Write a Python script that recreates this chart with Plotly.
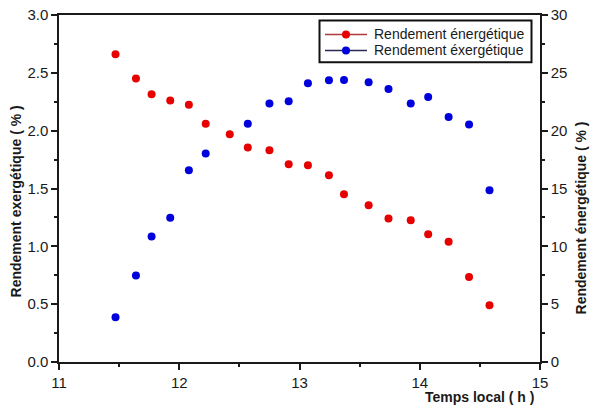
import plotly.graph_objects as go

# Data
time_energ = [11.47, 11.64, 11.77, 11.925, 12.08, 12.22, 12.42, 12.57, 12.75, 12.91,
              13.07, 13.245, 13.37, 13.575, 13.74, 13.925, 14.07, 14.24, 14.41, 14.58]
rend_energ = [26.6, 24.5, 23.15, 22.6, 22.25, 20.6, 19.7, 18.55, 18.3, 17.1,
              17.0, 16.15, 14.5, 13.55, 12.4, 12.25, 11.05, 10.4, 7.35, 4.9]

time_exerg = [11.47, 11.64, 11.77, 11.925, 12.08, 12.22, 12.57, 12.75, 12.91,
              13.07, 13.245, 13.37, 13.575, 13.74, 13.925, 14.07, 14.24, 14.41, 14.58]
rend_exerg = [0.386, 0.748, 1.085, 1.248, 1.657, 1.803, 2.059, 2.234, 2.254,
              2.41, 2.435, 2.438, 2.418, 2.36, 2.234, 2.29, 2.119, 2.053, 1.484]

x_ticks = [11, 12, 13, 14, 15]
y_left_ticks = [0.0, 0.5, 1.0, 1.5, 2.0, 2.5, 3.0]
y_right_ticks = [0, 5, 10, 15, 20, 25, 30]

name_energ = "Rendement énergétique"
name_exerg = "Rendement éxergétique"
title_x = "Temps local ( h )"
title_left = "Rendement exergétique ( % )"
title_right = "Rendement énergétique ( % )"

RED = "#e60000"
BLUE = "#0000dd"
AXC = "#1a1a1a"
FONT = "Liberation Sans, Arial, sans-serif"

W, H = 590, 410
PLOT_L, PLOT_R, PLOT_T, PLOT_B = 59, 540, 14.5, 362.5  # window pixels


def px(x):
    return (x - PLOT_L) / (PLOT_R - PLOT_L)


def py(y):
    return (PLOT_B - y) / (PLOT_B - PLOT_T)


fig = go.Figure()

fig.add_trace(go.Scatter(x=time_energ, y=rend_energ, mode="markers", yaxis="y2",
                         name=name_energ, marker=dict(color=RED, size=8), showlegend=False))
fig.add_trace(go.Scatter(x=time_exerg, y=rend_exerg, mode="markers", yaxis="y",
                         name=name_exerg, marker=dict(color=BLUE, size=8), showlegend=False))

tickfont = dict(family=FONT, size=15, color=AXC)

# manual legend (box, line symbols, markers, texts)
LEG_X0, LEG_X1, LEG_Y0, LEG_Y1 = 319.5, 531.5, 20, 62
rows = [(34, name_energ, "#b03a3a", RED), (50, name_exerg, "#2a2a55", BLUE)]
shapes = [dict(type="rect", xref="paper", yref="paper",
               x0=px(LEG_X0), x1=px(LEG_X1), y0=py(LEG_Y1), y1=py(LEG_Y0),
               line=dict(color="#111111", width=2), fillcolor="white", layer="above")]
annotations = []
for yrow, label, lcol, mcol in rows:
    shapes.append(dict(type="line", xref="paper", yref="paper",
                       x0=px(325), x1=px(367), y0=py(yrow), y1=py(yrow),
                       line=dict(color=lcol, width=1.5), layer="above"))
    shapes.append(dict(type="circle", xref="paper", yref="paper",
                       xsizemode="pixel", ysizemode="pixel",
                       xanchor=px(346), yanchor=py(yrow),
                       x0=-4, x1=4, y0=-4, y1=4,
                       fillcolor=mcol, line=dict(color=mcol, width=0), layer="above"))
    annotations.append(dict(text=label, xref="paper", yref="paper",
                            x=px(372), y=py(yrow), xanchor="left", yanchor="middle",
                            showarrow=False,
                            font=dict(family=FONT, size=14, color=AXC)))

annotations += [
    dict(text=f"<b>{title_x}</b>", xref="paper", yref="paper",
         x=px(536), y=py(398), xanchor="right", yanchor="middle",
         showarrow=False, font=dict(family=FONT, size=14, color=AXC)),
    dict(text=f"<b>{title_left}</b>", xref="paper", yref="paper",
         x=px(15.5), y=py(202), xanchor="center", yanchor="middle",
         textangle=-90, showarrow=False, font=dict(family=FONT, size=14, color=AXC)),
    dict(text=f"<b>{title_right}</b>", xref="paper", yref="paper",
         x=px(580.5), y=py(218), xanchor="center", yanchor="middle",
         textangle=-90, showarrow=False, font=dict(family=FONT, size=14, color=AXC)),
]

fig.update_layout(
    width=W, height=H,
    margin=dict(l=PLOT_L, r=W - PLOT_R, t=PLOT_T, b=H - PLOT_B, autoexpand=False),
    paper_bgcolor="white", plot_bgcolor="white",
    font=dict(family=FONT, color=AXC),
    showlegend=False,
    xaxis=dict(range=[11, 15], tickvals=x_ticks, ticktext=[str(v) for v in x_ticks],
               showline=True, linecolor=AXC, linewidth=1.5, mirror=True,
               ticks="outside", ticklen=6, tickwidth=1.5, tickcolor=AXC,
               minor=dict(dtick=0.5, ticks="outside", ticklen=3, tickcolor=AXC, tickwidth=1.5),
               showgrid=False, zeroline=False, tickfont=tickfont,
               ticklabeloverflow="allow"),
    yaxis=dict(range=[0, 3], tickvals=y_left_ticks,
               ticktext=[f"{v:.1f}" for v in y_left_ticks],
               showline=True, linecolor=AXC, linewidth=1.5,
               ticks="outside", ticklen=6, tickwidth=1.5, tickcolor=AXC,
               minor=dict(dtick=0.25, ticks="outside", ticklen=3, tickcolor=AXC, tickwidth=1.5),
               showgrid=False, zeroline=False, tickfont=tickfont,
               ticklabeloverflow="allow"),
    yaxis2=dict(range=[0, 30], tickvals=y_right_ticks,
                ticktext=[str(v) for v in y_right_ticks],
                overlaying="y", side="right",
                showline=True, linecolor=AXC, linewidth=1.5,
                ticks="outside", ticklen=6, tickwidth=1.5, tickcolor=AXC,
                minor=dict(dtick=2.5, ticks="outside", ticklen=3, tickcolor=AXC, tickwidth=1.5),
                showgrid=False, zeroline=False, tickfont=tickfont,
                ticklabeloverflow="allow"),
    shapes=shapes,
    annotations=annotations,
)

# remove the default page margin so the 590x410 figure fills the window exactly
fig.write_html("out.html", config={"displayModeBar": False},
               post_script="document.body.style.margin='0';")
